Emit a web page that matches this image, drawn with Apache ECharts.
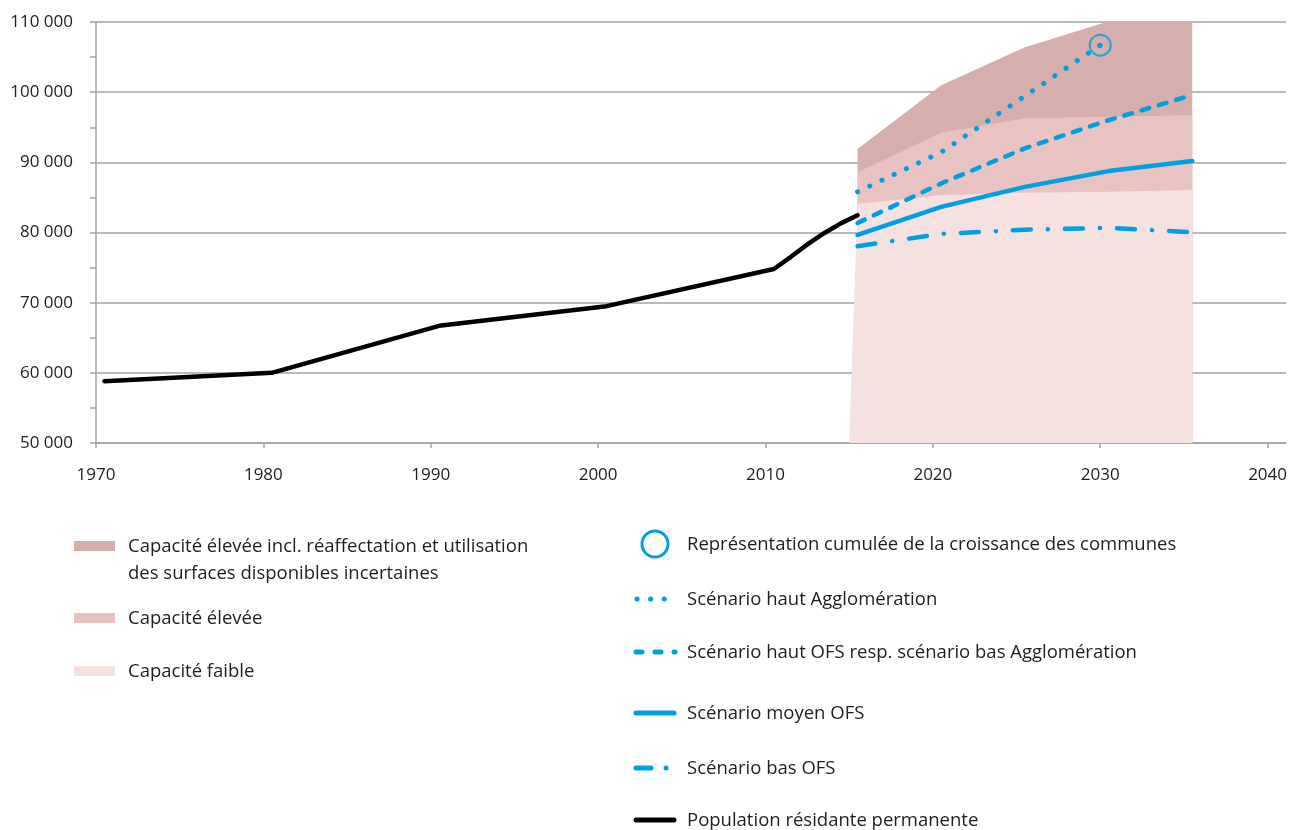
<!DOCTYPE html>
<html>
<head>
<meta charset="utf-8">
<script src="https://cdn.jsdelivr.net/npm/echarts@6/dist/echarts.min.js"></script>
<style>
	html, body { margin: 0; padding: 0; background: #fff; }
	#chart { width: 1292px; height: 830px; }
</style>
</head>
<body>
<div id="chart"></div>
<script>
// Population, capacités et scénarios.
var yearTicks = [1970, 1980, 1990, 2000, 2010, 2020, 2030, 2040];

// Population résidante permanente
var popYears = [1970.5, 1980.5, 1990.5, 2000.5, 2010.5, 2011.5, 2012.5, 2013.5, 2014.5, 2015.5];
var popValues = [58800, 60000, 66700, 69500, 74800, 76500, 78300, 79900, 81300, 82450];

// Années des scénarios et capacités
var scenYears = [2015.5, 2020.5, 2025.5, 2030.5, 2035.5];
var capHautIncl = [91900, 101000, 106400, 110100, 111000];
var capHaut = [88600, 94200, 96300, 96500, 96700];
var capFaibleYears = [2015, 2015.5, 2020.5, 2025.5, 2030.5, 2035.5];
var capFaible = [50000, 84050, 85350, 85650, 85800, 86050];

var scenHautOFS = [81350, 87000, 92000, 96000, 99600];
var scenMoyenOFS = [79650, 83650, 86500, 88750, 90200];
var scenBasOFS = [78050, 79800, 80400, 80650, 80050];

// Scénario haut Agglomération (s'arrête au cercle)
var aggloYears = [2015.5, 2020.5, 2025.5, 2030];
var aggloValues = [85800, 91450, 99450, 106700];

// Représentation cumulée de la croissance des communes
var communesPoint = [2030, 106700];

var names = {
	capHautIncl: 'Capacité élevée incl. réaffectation et utilisation\ndes surfaces disponibles incertaines',
	capHaut: 'Capacité élevée',
	capFaible: 'Capacité faible',
	communes: 'Représentation cumulée de la croissance des communes',
	agglo: 'Scénario haut Agglomération',
	hautOFS: 'Scénario haut OFS resp. scénario bas Agglomération',
	moyenOFS: 'Scénario moyen OFS',
	basOFS: 'Scénario bas OFS',
	pop: 'Population résidante permanente'
};

var BLUE = '#009fe3';
var C_DARK = '#d6aeab';
var C_MID = '#e9c3c2';
var C_LIGHT = '#f4e1e0';
var FONT = '"Open Sans", sans-serif';
var TXT = '#1e1e1e';
var LEG_FONT = '18.5px ' + FONT;

var pairs = function(xs, ys) {
	return xs.map(function(x, i) { return [x, ys[i]]; });
};

var areaSeries = function(name, xs, ys, color) {
	return {
		name: name,
		type: 'line',
		data: pairs(xs, ys),
		showSymbol: false,
		lineStyle: { width: 0 },
		areaStyle: { color: color, opacity: 1, origin: 'start' },
		silent: true
	};
};

var lineSeries = function(name, xs, ys, color, type, width) {
	return {
		name: name,
		type: 'line',
		data: pairs(xs, ys),
		showSymbol: false,
		lineStyle: { color: color, width: width, type: type, cap: 'round', join: 'round' },
		z: 3
	};
};

var dotted = lineSeries(names.agglo, aggloYears, aggloValues, BLUE, [0.1, 13.4], 5);
dotted.showSymbol = true;
dotted.symbol = 'circle';
dotted.symbolSize = function(v, p) { return p.dataIndex === aggloYears.length - 1 ? 5 : 0; };
dotted.itemStyle = { color: BLUE };

var chartDom = document.getElementById('chart');
var myChart = echarts.init(chartDom);

// Légende dessinée à la main
var legend = [];
var leftRows = [
	{ name: names.capHautIncl, color: C_DARK, y: 546 },
	{ name: names.capHaut, color: C_MID, y: 618 },
	{ name: names.capFaible, color: C_LIGHT, y: 671 }
];
leftRows.forEach(function(r) {
	legend.push({ type: 'rect', shape: { x: 74, y: r.y - 5, width: 41, height: 10 }, style: { fill: r.color } });
	legend.push({ type: 'text', x: 128, y: r.y - 13, style: { text: r.name, font: LEG_FONT, fill: TXT, lineHeight: 27 } });
});

var rx = 687;
var rightRows = [
	{ name: names.communes, y: 545 },
	{ name: names.agglo, y: 600 },
	{ name: names.hautOFS, y: 653 },
	{ name: names.moyenOFS, y: 714 },
	{ name: names.basOFS, y: 769 },
	{ name: names.pop, y: 821 }
];
rightRows.forEach(function(r) {
	legend.push({ type: 'text', x: rx, y: r.y, style: { text: r.name, font: LEG_FONT, fill: TXT, verticalAlign: 'middle' } });
});
legend.push({ type: 'circle', shape: { cx: 655, cy: 544, r: 13 }, style: { fill: 'none', stroke: BLUE, lineWidth: 3 } });
legend.push({ type: 'line', shape: { x1: 637, y1: 599, x2: 665, y2: 599 }, style: { stroke: BLUE, lineWidth: 5, lineDash: [0.1, 13.5], lineCap: 'round' } });
legend.push({ type: 'line', shape: { x1: 636, y1: 652, x2: 675, y2: 652 }, style: { stroke: BLUE, lineWidth: 5, lineDash: [6, 13], lineCap: 'round' } });
legend.push({ type: 'line', shape: { x1: 636, y1: 713, x2: 674, y2: 713 }, style: { stroke: BLUE, lineWidth: 5, lineCap: 'round' } });
legend.push({ type: 'line', shape: { x1: 636, y1: 768, x2: 666.1, y2: 768 }, style: { stroke: BLUE, lineWidth: 5, lineDash: [15, 15, 0.1, 100], lineCap: 'round' } });
legend.push({ type: 'line', shape: { x1: 636, y1: 820, x2: 674, y2: 820 }, style: { stroke: '#000', lineWidth: 5, lineCap: 'round' } });

var option = {
	animation: false,
	backgroundColor: '#fff',
	textStyle: { fontFamily: FONT },
	grid: { left: 96, top: 22, right: 6, bottom: 387, containLabel: false },
	xAxis: {
		type: 'value',
		min: 1970,
		max: 2041.1,
		interval: 10,
		axisLine: { show: true, lineStyle: { color: '#a3a3a3', width: 1.5 } },
		axisTick: { show: true, length: 5, customValues: yearTicks, lineStyle: { color: '#a3a3a3', width: 1.5 } },
		axisLabel: { customValues: yearTicks, margin: 24, fontSize: 17, color: TXT, fontFamily: FONT, formatter: function(v) { return String(v); } },
		splitLine: { show: false }
	},
	yAxis: {
		type: 'value',
		min: 50000,
		max: 110000,
		interval: 10000,
		axisLine: { show: true, lineStyle: { color: '#a3a3a3', width: 1.5 } },
		axisTick: { show: true, length: 6, lineStyle: { color: '#a3a3a3', width: 1.5 } },
		minorTick: { show: true, splitNumber: 2, length: 6, lineStyle: { color: '#a3a3a3', width: 1.5 } },
		axisLabel: {
			margin: 23, fontSize: 17, color: TXT, fontFamily: FONT,
			formatter: function(v) { return String(v).replace(/\B(?=(\d{3})+(?!\d))/g, ' '); }
		},
		splitLine: { show: true, lineStyle: { color: '#a3a3a3', width: 1.5 } }
	},
	graphic: legend,
	series: [
		areaSeries(names.capHautIncl, scenYears, capHautIncl, C_DARK),
		areaSeries(names.capHaut, scenYears, capHaut, C_MID),
		areaSeries(names.capFaible, capFaibleYears, capFaible, C_LIGHT),
		lineSeries(names.pop, popYears, popValues, '#000', 'solid', 4.5),
		lineSeries(names.basOFS, scenYears, scenBasOFS, BLUE, [18, 17, 0.1, 17], 4.5),
		lineSeries(names.moyenOFS, scenYears, scenMoyenOFS, BLUE, 'solid', 4.5),
		lineSeries(names.hautOFS, scenYears, scenHautOFS, BLUE, [8, 10], 4.5),
		dotted,
		{
			name: names.communes,
			type: 'scatter',
			data: [communesPoint],
			symbol: 'circle',
			symbolSize: 21,
			itemStyle: { color: 'rgba(0,0,0,0)', borderColor: BLUE, borderWidth: 2 },
			z: 4
		}
	]
};
option && myChart.setOption(option);
</script>
</body>
</html>
